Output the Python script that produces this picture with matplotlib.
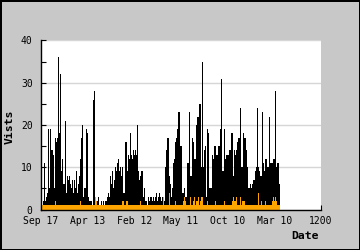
import numpy as np
import matplotlib
matplotlib.use("Agg")
import matplotlib.pyplot as plt

# visits per bin (one bin is about 4.3 days)
visits = [
    1, 2, 11, 2, 3, 4, 19, 5, 19, 14, 14, 13, 5, 17, 16, 17, 36, 18, 32, 9,
    12, 6, 6, 21, 4, 8, 7, 8, 6, 5, 7, 4, 7, 5, 9, 4, 6, 8, 12, 17,
    20, 3, 5, 5, 19, 18, 3, 2, 2, 2, 1, 26, 28, 2, 2, 2, 3, 1, 1, 2,
    1, 2, 1, 2, 2, 3, 4, 3, 8, 6, 9, 5, 7, 10, 9, 11, 12, 9, 10, 8,
    10, 4, 4, 16, 16, 9, 13, 12, 18, 13, 12, 14, 13, 14, 13, 20, 9, 7, 8, 9,
    9, 3, 5, 2, 2, 1, 3, 2, 3, 3, 2, 3, 2, 3, 4, 2, 3, 4, 3, 2,
    3, 3, 2, 10, 14, 17, 17, 8, 6, 3, 5, 11, 12, 16, 17, 19, 23, 23, 15, 15,
    4, 4, 5, 3, 3, 11, 11, 23, 8, 8, 17, 16, 12, 12, 20, 22, 22, 25, 25, 10,
    35, 10, 14, 15, 3, 19, 18, 5, 5, 5, 13, 12, 15, 15, 13, 13, 15, 15, 19, 31,
    9, 9, 19, 12, 13, 13, 13, 14, 14, 18, 18, 8, 14, 13, 14, 16, 17, 17, 24, 10,
    10, 18, 17, 17, 14, 10, 5, 5, 6, 5, 6, 7, 7, 9, 10, 24, 10, 9, 8, 8,
    23, 11, 9, 12, 12, 10, 10, 22, 11, 11, 11, 12, 12, 28, 10, 11, 11, 6,
]

# orange series, same bins
uniques = [
    1, 1, 1, 1, 1, 1, 1, 1, 1, 1, 1, 1, 1, 2, 1, 1, 1, 1, 1, 1,
    1, 1, 1, 1, 1, 1, 1, 1, 1, 1, 1, 1, 1, 1, 1, 1, 1, 1, 2, 1,
    1, 1, 1, 1, 1, 1, 1, 1, 1, 1, 1, 1, 1, 3, 2, 1, 1, 1, 1, 1,
    1, 1, 1, 1, 1, 1, 1, 1, 1, 1, 1, 1, 1, 1, 1, 1, 1, 1, 1, 1,
    2, 2, 1, 1, 2, 2, 1, 1, 1, 1, 1, 1, 1, 1, 1, 1, 1, 1, 2, 1,
    1, 1, 1, 1, 1, 1, 1, 1, 1, 1, 1, 1, 1, 1, 1, 1, 1, 1, 1, 1,
    1, 3, 1, 1, 1, 1, 1, 4, 1, 1, 1, 1, 1, 2, 1, 1, 1, 1, 1, 1,
    1, 2, 3, 2, 1, 1, 1, 1, 3, 1, 1, 2, 3, 1, 2, 2, 3, 1, 2, 3,
    3, 1, 1, 1, 1, 2, 1, 1, 1, 1, 1, 1, 1, 2, 1, 1, 1, 1, 1, 1,
    1, 1, 2, 1, 1, 1, 1, 1, 1, 1, 2, 3, 2, 2, 3, 1, 1, 1, 3, 1,
    2, 2, 2, 1, 1, 1, 1, 1, 1, 1, 1, 1, 1, 1, 1, 1, 4, 1, 1, 2,
    1, 1, 1, 2, 1, 1, 1, 1, 1, 1, 2, 3, 2, 3, 2, 1, 1, 1,
]

tick_pos = [0, 200, 400, 600, 800, 1000, 1200]
tick_labels = ["Sep 17", "Apr 13", "Feb 12", "May 11", "Oct 10", "Mar 10", "1200"]

BIN = 1200 / 279.0
BG = "#c8c8c8"
ORANGE = "#ffa500"
MONO = "DejaVu Sans Mono"

fig = plt.figure(figsize=(3.6, 2.5), dpi=100, facecolor=BG)
fig.patch.set_edgecolor("black")
fig.patch.set_linewidth(0.8)
ax = fig.add_axes([41 / 360, 1 - 209.5 / 250, 280 / 360, 169 / 250])
ax.set_facecolor("white")

x = (np.arange(len(visits)) + 0.5) * BIN
ax.bar(x, visits, width=BIN, align="edge", color="black", linewidth=0, antialiased=False, zorder=2)
ax.bar(x, uniques, width=BIN, align="edge", color=ORANGE, linewidth=0, antialiased=False, zorder=3)

ax.set_xlim(0, 1200)
ax.set_ylim(0, 40)
ax.set_xticks(tick_pos)
ax.set_xticklabels(tick_labels, fontfamily=MONO, fontsize=7)
ax.set_yticks([0, 10, 20, 30, 40])
ax.set_yticks([5, 15, 25, 35], minor=True)
ax.set_yticklabels(["0", "10", "20", "30", "40"], fontfamily=MONO, fontsize=7)
ax.tick_params(axis="both", which="both", direction="in", length=3.5, width=0.8, color="black", zorder=5)
ax.tick_params(axis="x", pad=5)
ax.tick_params(axis="y", pad=6)
ax.yaxis.grid(True, which="major", color="#d6d6d6", linewidth=1)
ax.set_axisbelow(True)

for s in ["top", "right"]:
    ax.spines[s].set_visible(False)
for s in ["left", "bottom"]:
    ax.spines[s].set_color("black")
    ax.spines[s].set_linewidth(1)
    ax.spines[s].set_zorder(5)

fig.text(9.5 / 360, 1 - 127 / 250, "Vists", rotation=90, ha="center", va="center",
         fontfamily=MONO, fontweight="bold", fontsize=8.2)
fig.text(319 / 360, 1 - 236 / 250, "Date", ha="right", va="center",
         fontfamily=MONO, fontweight="bold", fontsize=8.2)

fig.savefig("out.png", dpi=100)
